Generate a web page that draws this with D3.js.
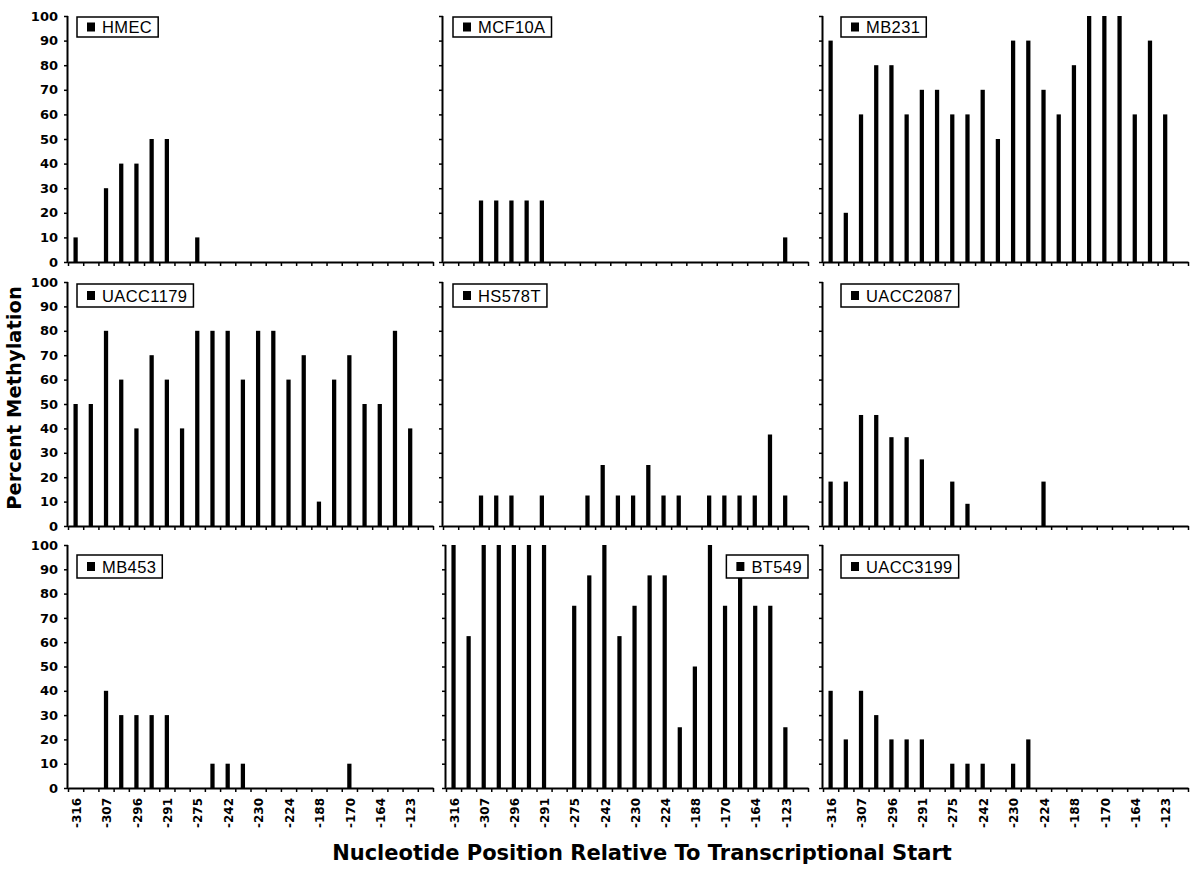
<!DOCTYPE html>
<html><head><meta charset="utf-8">
<script src="https://cdn.jsdelivr.net/npm/d3@7"></script>
<style>body{margin:0;background:#fff}svg{display:block}</style>
</head><body>
<svg id="chart" width="1200" height="869"></svg>
<script>
// ---- data ----
const tickLabels = ["-316","-307","-296","-291","-275","-242","-230","-224","-188","-170","-164","-123"];
const siteCount = 24; // CpG sites; every other site is labelled
const cellLines = ["HMEC","MCF10A","MB231","UACC1179","HS578T","UACC2087","MB453","BT549","UACC3199"];
const yTicks = [0,10,20,30,40,50,60,70,80,90,100];

const HMEC     = [10,0,30,40,40,50,50,0,10,0,0,0,0,0,0,0,0,0,0,0,0,0,0,0];
const MCF10A   = [0,0,25,25,25,25,25,0,0,0,0,0,0,0,0,0,0,0,0,0,0,0,10,0];
const MB231    = [90,20,60,80,80,60,70,70,60,60,70,50,90,90,70,60,80,100,100,100,60,90,60,0];
const UACC1179 = [50,50,80,60,40,70,60,40,80,80,80,60,80,80,60,70,10,60,70,50,50,80,40,0];
const HS578T   = [0,0,12.5,12.5,12.5,0,12.5,0,0,12.5,25,12.5,12.5,25,12.5,12.5,0,12.5,12.5,12.5,12.5,37.5,12.5,0];
const UACC2087 = [18.2,18.2,45.5,45.5,36.4,36.4,27.3,0,18.2,9.1,0,0,0,0,18.2,0,0,0,0,0,0,0,0,0];
const MB453    = [0,0,40,30,30,30,30,0,0,10,10,10,0,0,0,0,0,0,10,0,0,0,0,0];
const BT549    = [100,62.5,100,100,100,100,100,0,75,87.5,100,62.5,75,87.5,87.5,25,50,100,75,87.5,75,75,25,0];
const UACC3199 = [40,20,40,30,20,20,20,0,10,10,10,0,10,20,0,0,0,0,0,0,0,0,0,0];
const seriesValues = [HMEC, MCF10A, MB231, UACC1179, HS578T, UACC2087, MB453, BT549, UACC3199];

const yTitle = "Percent Methylation";
const xTitle = "Nucleotide Position Relative To Transcriptional Start";

// ---- layout ----
const colX = [68, 443, 823];
const plotW = 365;
const rowY = [[16, 262], [282, 526], [545, 788]];
const legendDY = [1, 2, 10];
const legendH = [20, 23, 23];
const legendDX = [9, 10, 18];

const svg = d3.select("#chart");
const boldFont = "'DejaVu Sans', Verdana, sans-serif";

seriesValues.forEach((vals, p) => {
  const r = Math.floor(p / 3), c = p % 3;
  const shift = (p === 7) ? 3 : 0;
  const x0 = colX[c] + shift, x1 = colX[c] + plotW;
  const [yTop, yBot] = rowY[r];
  const g = svg.append("g");

  const xb = d3.scaleBand().domain(d3.range(siteCount)).range([x0, x1])
    .paddingInner(0.72).paddingOuter(0.36);
  const xl = d3.scaleLinear().domain([0, siteCount]).range([x0, x1]);
  const y = d3.scaleLinear().domain([0, 100]).range([yBot, yTop]);

  // bars
  g.selectAll("rect.bar").data(vals.map((v, i) => ({v, i})).filter(d => d.v > 0))
    .join("rect").attr("class", "bar")
    .attr("x", d => xb(d.i)).attr("width", xb.bandwidth())
    .attr("y", d => y(d.v)).attr("height", d => y(0) - y(d.v))
    .attr("fill", "#000");

  // y axis
  const ya = d3.axisLeft(y).tickValues(yTicks).tickSize(4).tickSizeOuter(0).tickPadding(6);
  if (c !== 0) ya.tickFormat("");
  const yg = g.append("g").attr("transform", `translate(${x0},0)`).call(ya);
  yg.select(".domain").attr("stroke-width", 2).attr("d", `M-0.5,${yTop}V${yBot + 1}`);
  yg.selectAll(".tick line").attr("stroke-width", 1.5);
  yg.selectAll(".tick text").attr("font-family", boldFont).attr("font-weight", "bold")
    .attr("font-size", 13).attr("fill", "#000");

  // x axis (tick marks at site boundaries)
  const xa = d3.axisBottom(xl).tickValues(d3.range(siteCount + 1)).tickSize(4).tickSizeOuter(0).tickFormat("");
  const xg = g.append("g").attr("transform", `translate(0,${yBot})`).call(xa);
  xg.select(".domain").attr("stroke-width", 2);
  xg.selectAll(".tick line").attr("stroke-width", 1.5);

  // x tick labels on bottom row
  if (r === 2) {
    const la = d3.axisBottom(xb).tickSize(0).tickPadding(0)
      .tickValues(d3.range(0, siteCount, 2))
      .tickFormat(i => tickLabels[i / 2]);
    const lg = g.append("g").attr("transform", `translate(0,${yBot})`).call(la);
    lg.select(".domain").remove();
    lg.selectAll(".tick text")
      .attr("font-family", boldFont).attr("font-weight", "bold").attr("font-size", 12)
      .attr("fill", "#000")
      .attr("text-anchor", "end")
      .attr("transform", "rotate(-90)")
      .attr("x", -10).attr("y", 1).attr("dy", "0.35em");
  }

  // legend
  const lg = g.append("g");
  const lh = legendH[r];
  const txt = lg.append("text").text(cellLines[p])
    .attr("font-family", "'Liberation Sans', Arial, sans-serif").attr("font-size", 16.5)
    .attr("letter-spacing", 0.4).attr("fill", "#000");
  const tw = txt.node().getComputedTextLength();
  const bw = tw + 31;
  const bx = (p === 7) ? x1 - bw : colX[c] + legendDX[c];
  const by = yTop + legendDY[r];
  lg.insert("rect", "text").attr("x", bx).attr("y", by).attr("width", bw).attr("height", lh)
    .attr("fill", "#fff").attr("stroke", "#000").attr("stroke-width", 1.5);
  lg.append("rect").attr("x", bx + 10).attr("y", by + lh / 2 - 4.5).attr("width", 8).attr("height", 9).attr("fill", "#000");
  txt.attr("x", bx + 25).attr("y", by + lh / 2 + 6);
});

// axis titles
svg.append("text").text(yTitle)
  .attr("transform", "translate(21,398) rotate(-90)")
  .attr("text-anchor", "middle")
  .attr("font-family", boldFont).attr("font-weight", "bold").attr("font-size", 19.5).attr("fill", "#000");
svg.append("text").text(xTitle)
  .attr("x", 642).attr("y", 860)
  .attr("text-anchor", "middle")
  .attr("font-family", boldFont).attr("font-weight", "bold").attr("font-size", 21).attr("fill", "#000");
</script>
</body></html>
